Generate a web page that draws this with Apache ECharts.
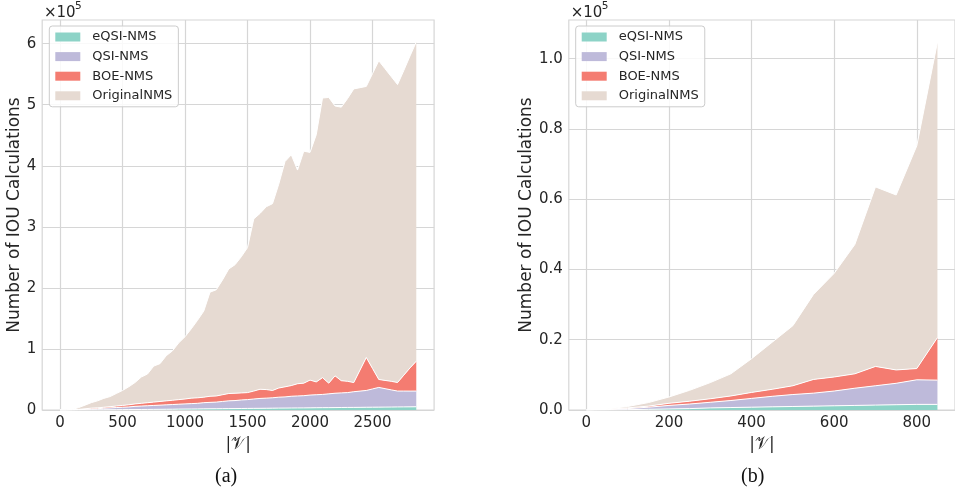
<!DOCTYPE html>
<html><head><meta charset="utf-8">
<script src="https://cdn.jsdelivr.net/npm/echarts@6/dist/echarts.min.js"></script>
<style>html,body{margin:0;padding:0;background:#fff}#c{width:955px;height:491px}</style>
</head><body><div id="c"></div>
<script>
const seriesNames = ['eQSI-NMS', 'QSI-NMS', 'BOE-NMS', 'OriginalNMS'];

// (a) |V| from 0 to 2850
const xA = [0,50,100,150,200,250,300,350,400,450,500,550,600,650,700,750,800,850,900,950,
  1000,1050,1100,1150,1200,1250,1300,1350,1400,1450,1500,1550,1600,1650,1700,1750,1800,1850,1900,1950,
  2000,2050,2100,2150,2200,2250,2300,2350,2400,2450,2500,2550,2600,2650,2700,2750,2800,2850];
const eqsiA = [0,0,0,100,150,250,300,400,450,500,600,700,750,850,950,1050,1150,1250,1350,1500,
  1600,1650,1750,1900,2000,2050,2200,2300,2350,2450,2600,2700,2750,2850,3000,3100,3150,3300,3400,3450,
  3550,3700,3800,3850,3950,4100,4200,4250,4350,4500,4600,4700,4750,4850,5000,5100,5150,5300];
const qsiA = [0,0,200,400,800,1300,1700,2600,3000,3500,3900,4300,5200,5600,6000,6400,6800,7200,7600,8000,
  8400,8800,9200,10100,10500,10900,11800,12700,13100,14000,14400,15300,16200,16600,17000,17900,18300,19200,19600,20000,
  20900,21300,21700,22600,23500,23900,24300,25700,26600,27500,29900,32300,30200,28100,26000,25900,25800,25700];
const boeA = [0,0,300,500,1000,1500,1500,1500,2000,2500,3000,3500,4000,4500,5000,5500,6000,6500,7000,7500,
  8000,9000,9000,9000,10000,10000,11000,12000,12000,11500,11500,13000,15000,14000,12000,15000,16500,17500,20000,20500,
  24500,21000,27500,17500,28500,20000,18500,15000,34500,54000,33500,13000,13500,14000,14000,26000,38000,49000];
const origA = [0,0,500,3000,6000,9000,11500,14500,16500,20500,24500,29500,35000,43000,47000,59000,62000,74000,81000,93000,
  102000,113500,127000,141000,170500,174000,188000,204000,210500,223000,237500,282000,288000,299500,306000,334000,369000,378000,350000,380000,
  373000,405000,458000,468000,442000,448000,463000,481000,462500,444000,483000,522000,510500,499000,488000,499000,511000,523000];

// (b) |V| from 0 to 850
const xB = [0,50,100,150,200,250,300,350,400,450,500,550,600,650,700,750,800,850];
const eqsiB = [0,0,100,200,300,400,600,700,800,900,1000,1100,1200,1300,1400,1500,1600,1600];
const qsiB = [0,100,300,600,1000,1300,1600,2000,2500,3000,3400,3700,4200,4900,5500,6100,7000,6900];
const boeB = [0,100,200,300,600,800,1000,1300,1700,2000,2500,3900,4000,4100,5500,3800,3200,12100];
const origB = [0,100,400,1000,1800,3100,4600,6300,9600,13400,17100,24200,29500,36800,51100,49800,63400,84100];

// tick labels
const xTicksA = [0,500,1000,1500,2000,2500];
const yTicksA = [0,100000,200000,300000,400000,500000,600000];
const xTicksB = [0,200,400,600,800];
const yTicksB = [0,20000,40000,60000,80000,100000];

const colors = ['#8dd3c7', '#bebada', '#f47c71', '#e6dad2'];
const FONT = 'DejaVu Sans';
const TXT = '#262626';
const GRID = '#d6d6d6';

// value first so that the stack is applied on the value dimension
function pairs(xs, ys) { return xs.map((x, i) => [ys[i], x]); }

function mkSeries(idx, xs, arrs, stack) {
  return arrs.map((arr, k) => ({
    type: 'line', name: seriesNames[k], stack: stack,
    xAxisIndex: idx, yAxisIndex: idx,
    data: pairs(xs, arr),
    encode: { x: 1, y: 0 },
    symbol: 'none', smooth: false,
    color: colors[k],
    itemStyle: { color: colors[k] },
    lineStyle: { color: '#ffffff', width: 1 },
    areaStyle: { color: colors[k], opacity: 1 },
    emphasis: { disabled: true },
    silent: true
  }));
}

function xAxisCfg(idx, min, max, ticks) {
  return {
    type: 'value', gridIndex: idx, min: min, max: max,
    name: '|𝒱|', nameLocation: 'middle', nameGap: 25,
    nameTextStyle: { fontFamily: 'DejaVu Serif', fontSize: 17, color: TXT },
    axisLine: { show: false }, axisTick: { show: false, customValues: ticks },
    axisLabel: { customValues: ticks, fontFamily: FONT, fontSize: 15, color: TXT, margin: 6, formatter: v => String(v) },
    splitLine: { show: true, lineStyle: { color: GRID, width: 1.2 } }
  };
}
function yAxisCfg(idx, max, ticks, fmt) {
  return {
    type: 'value', gridIndex: idx, min: 0, max: max,
    name: 'Number of IOU Calculations', nameLocation: 'middle', nameGap: 16,
    nameTextStyle: { fontFamily: FONT, fontSize: 17, color: TXT },
    axisLine: { show: false }, axisTick: { show: false, customValues: ticks },
    axisLabel: { customValues: ticks, fontFamily: FONT, fontSize: 15, color: TXT, margin: 6, formatter: fmt },
    splitLine: { show: true, lineStyle: { color: GRID, width: 1.2 } }
  };
}
function legendCfg(left) {
  return {
    data: seriesNames, left: left, top: 26, orient: 'vertical', icon: 'rect',
    itemWidth: 25, itemHeight: 9, itemGap: 6.6, selectedMode: false,
    padding: [4.5, 6, 4.5, 6],
    backgroundColor: 'rgba(255,255,255,0.85)', borderColor: '#cccccc', borderWidth: 1, borderRadius: 3,
    itemStyle: { borderWidth: 0 },
    textStyle: { fontFamily: FONT, fontSize: 13, lineHeight: 13, color: TXT, padding: [0, 0, 0, 7] }
  };
}

const chart = echarts.init(document.getElementById('c'), null, { renderer: 'canvas' });
chart.setOption({
  animation: false,
  backgroundColor: '#ffffff',
  grid: [
    { left: 42.2, right: 520.9, top: 20, bottom: 81, show: true, borderColor: GRID, borderWidth: 1.2, backgroundColor: 'transparent' },
    { left: 568.8, right: -6.9, top: 20, bottom: 81, show: true, borderColor: GRID, borderWidth: 1.2, backgroundColor: 'transparent' }
  ],
  xAxis: [ xAxisCfg(0, -142.5, 2992.5, xTicksA), xAxisCfg(1, -42.5, 892.5, xTicksB) ],
  yAxis: [
    yAxisCfg(0, 638800, yTicksA, v => String(Math.round(v / 100000))),
    yAxisCfg(1, 111000, yTicksB, v => (v / 100000).toFixed(1))
  ],
  legend: [ legendCfg(49.3), legendCfg(575.7) ],
  series: [].concat(
    mkSeries(0, xA, [eqsiA, qsiA, boeA, origA], 'a'),
    mkSeries(1, xB, [eqsiB, qsiB, boeB, origB], 'b')
  ),
  graphic: [
    { type: 'text', left: 44, top: 6, style: { text: '×10', font: '15px "DejaVu Sans"', fill: TXT } },
    { type: 'text', left: 75, top: 1, style: { text: '5', font: '10.5px "DejaVu Sans"', fill: TXT } },
    { type: 'text', left: 570.7, top: 6, style: { text: '×10', font: '15px "DejaVu Sans"', fill: TXT } },
    { type: 'text', left: 601.7, top: 1, style: { text: '5', font: '10.5px "DejaVu Sans"', fill: TXT } },
    { type: 'text', left: 215, top: 467, style: { text: '(a)', font: '20px "Liberation Serif"', fill: '#111' } },
    { type: 'text', left: 741, top: 467, style: { text: '(b)', font: '20px "Liberation Serif"', fill: '#111' } }
  ]
});
</script>
</body></html>
